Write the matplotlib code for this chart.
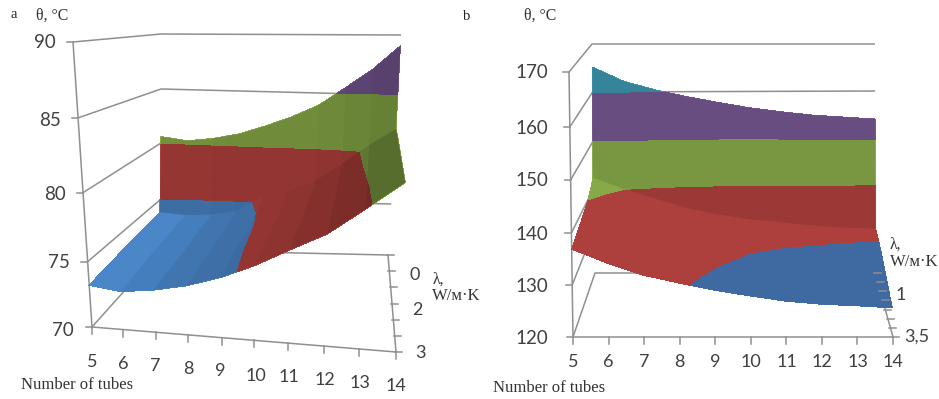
import numpy as np
import matplotlib
matplotlib.use("Agg")
import matplotlib.pyplot as plt
from matplotlib.collections import PolyCollection

# ---------- data ----------
tubes = [5, 6, 7, 8, 9, 10, 11, 12, 13, 14]

a_lambda = [0, 0.05, 0.5, 1, 1.5, 2, 2.5, 3]
a_row0 = [80.6, 80.3, 80.6, 81.1, 81.9, 82.8, 83.9, 85.5, 87.1, 89.1]
a_row1 = [73.8, 73.6, 73.7, 74.1, 75.6, 76.1, 77.1, 78.8, 80.6, 82.1]
a_row2 = [73.7, 73.5, 73.6, 74.0, 75.0, 75.9, 77.0, 78.6, 80.4, 82.1]
a_row3 = [73.6, 73.4, 73.5, 73.95, 74.82, 75.8, 76.9, 78.4, 80.2, 82.0]
a_row4 = [73.5, 73.3, 73.4, 73.9, 74.75, 75.7, 76.85, 78.3, 80.0, 81.9]
a_row5 = [73.4, 73.2, 73.35, 73.85, 74.7, 75.65, 76.8, 78.2, 79.8, 81.8]
a_row6 = [73.3, 73.05, 73.3, 73.8, 74.6, 75.6, 76.75, 78.05, 79.7, 81.7]
a_row7 = [73.2, 72.9, 73.2, 73.7, 74.5, 75.5, 76.7, 77.9, 79.6, 81.6]
a_theta_ticks = [70, 75, 80, 85, 90]

b_lambda = [0, 0.1, 0.5, 1, 1.5, 2, 2.5, 3, 3.5]
b_row0 = [165.2, 162.2, 160.4, 159.0, 157.8, 156.7, 155.9, 155.2, 154.8, 154.4]
b_row1 = [142.5, 140.0, 137.7, 135.4, 133.9, 132.7, 132.0, 131.2, 130.7, 130.5]
b_row2 = [141.0, 138.8, 136.6, 134.3, 132.6, 131.5, 130.9, 130.4, 130.2, 130.2]
b_row3 = [139.8, 137.5, 135.4, 133.2, 131.6, 130.6, 130.2, 130.0, 129.9, 129.8]
b_row4 = [139.0, 136.6, 134.5, 132.4, 130.9, 130.0, 129.6, 129.3, 129.2, 129.1]
b_row5 = [138.3, 135.9, 133.7, 131.8, 130.4, 129.5, 129.0, 128.6, 128.4, 128.2]
b_row6 = [137.8, 135.3, 133.1, 131.3, 129.9, 129.0, 128.3, 127.8, 127.6, 127.3]
b_row7 = [137.3, 134.7, 132.5, 130.8, 129.4, 128.4, 127.6, 127.0, 126.8, 126.4]
b_row8 = [136.9, 134.2, 131.9, 130.4, 129.0, 127.9, 126.9, 126.3, 126.0, 125.6]
b_theta_ticks = [120, 130, 140, 150, 160, 170]

lambda_ticks_a = [0, 0.5, 1, 1.5, 2, 2.5, 3]
lambda_ticks_b = [0, 0.5, 1, 1.5, 2, 2.5, 3, 3.5]

# ---------- view geometry (oblique view of each 3D chart) ----------
GEO_A = dict(
    lam_max=3,
    fl_x=(92, 73), fr_x=(396, 412), bl_x=(161, 161), br_x=(388, 401),
    fl_y=[327, 262, 193, 118, 42], fr_y=[352, 283, 205, 135, 62],
    bl_y=[250, 199, 143, 89, 34], br_y=[255, 204, 152, 95, 35],
    front_frac=[0, .102, .210, .315, .426, .534, .646, .764, .879, 1],
)
GEO_B = dict(
    lam_max=3.5,
    fl_x=(573, 569), fr_x=(893, 886), bl_x=(595, 592), br_x=(875, 875),
    fl_y=[337, 285, 233, 180, 127, 72], fr_y=[337, 285, 233, 180, 127, 72],
    bl_y=[273, 229, 188, 141, 92, 44], br_y=[273, 229, 188, 141, 91, 44],
    front_frac=[0, .111, .222, .333, .444, .556, .667, .778, .889, 1],
)

def project(n, lam, theta, geo, ticks):
    n, lam, theta = np.broadcast_arrays(np.asarray(n, float), np.asarray(lam, float), np.asarray(theta, float))
    d = lam / geo["lam_max"]
    t = (theta - ticks[0]) / (ticks[-1] - ticks[0])
    ub = (n - 5) / 9
    uf = np.interp(n, tubes, geo["front_frac"])
    u = ub * (1 - d) + uf * d
    def corner(xs, ys):
        return xs[0] + (xs[1] - xs[0]) * t, np.interp(theta, ticks, ys)
    flx, fly = corner(geo["fl_x"], geo["fl_y"])
    frx, fry = corner(geo["fr_x"], geo["fr_y"])
    blx, bly = corner(geo["bl_x"], geo["bl_y"])
    brx, bry = corner(geo["br_x"], geo["br_y"])
    x = (1 - u) * ((1 - d) * blx + d * flx) + u * ((1 - d) * brx + d * frx)
    y = (1 - u) * ((1 - d) * bly + d * fly) + u * ((1 - d) * bry + d * fry)
    return x, y

GRID = "#8f8f8f"
TICK_TXT = "#404040"
LABEL_TXT = "#333333"
SANS = "Lato"
SERIF = "Liberation Serif"

fig = plt.figure(figsize=(9.39, 3.99), dpi=100)
ax = fig.add_axes([0, 0, 1, 1])
ax.set_xlim(0, 939)
ax.set_ylim(399, 0)
ax.axis("off")

def frame(geo, ticks):
    nmin, nmax, lmax = tubes[0], tubes[-1], geo["lam_max"]
    for th in ticks:
        x, y = project([nmin, nmin, nmax], [lmax, 0, 0], [th, th, th], geo, ticks)
        ax.plot(x, y, color=GRID, lw=1.1, zorder=1, solid_capstyle="butt")
        ax.plot([x[0] - 6, x[0]], [y[0], y[0]], color=GRID, lw=1.1, zorder=1)
    x, y = project([nmin, nmin], [lmax, lmax], [ticks[0], ticks[-1]], geo, ticks)
    ax.plot(x, y, color=GRID, lw=1.1, zorder=1)
    x, y = project([nmin, nmax, nmax], [lmax, lmax, 0], [ticks[0]] * 3, geo, ticks)
    ax.plot(x, y, color=GRID, lw=1.1, zorder=1)
    for n in tubes:
        x, y = project(n, lmax, ticks[0], geo, ticks)
        ax.plot([x, x], [y, y + 7], color=GRID, lw=1.1, zorder=1)

def side_ticks(geo, ticks, lam_ticks, zorder):
    for lam in lam_ticks:
        x, y = project(tubes[-1], lam, ticks[0], geo, ticks)
        ax.plot([x - 1, x + 6], [y, y], color=GRID, lw=1.1, zorder=zorder)

def surface(rows, lams, geo, ticks, colors, cliff_alpha, top_alpha):
    Z = np.array(rows, float)
    N, L = np.meshgrid(tubes, lams)
    X, Y = project(N, L, Z, geo, ticks)
    ax.contourf(X, Y, Z, levels=ticks, colors=colors, zorder=2)
    polys, alphas = [], []
    for i in range(len(tubes) - 1):
        # the steep face between the first two rows
        polys.append(np.array([[X[0, i], Y[0, i]], [X[0, i + 1], Y[0, i + 1]],
                               [X[1, i + 1], Y[1, i + 1]], [X[1, i], Y[1, i]]]))
        alphas.append(cliff_alpha[i])
        # the gentler remainder of the surface, one strip per tube step
        left = np.column_stack([X[1:, i], Y[1:, i]])
        right = np.column_stack([X[1:, i + 1], Y[1:, i + 1]])
        polys.append(np.vstack([left, right[::-1]]))
        alphas.append(top_alpha[i])
    fc = [(0, 0, 0, a) for a in alphas]
    ax.add_collection(PolyCollection(polys, facecolors=fc, edgecolors="none",
                                     linewidths=0, zorder=3))

# ---------- panel a ----------
frame(GEO_A, a_theta_ticks)
side_ticks(GEO_A, a_theta_ticks, lambda_ticks_a, 1)
rows_a = [a_row0, a_row1, a_row2, a_row3, a_row4, a_row5, a_row6, a_row7]
surface(rows_a, a_lambda, GEO_A, a_theta_ticks,
        ["#4a86c8", "#b8433f", "#8db04a", "#7a5a96"],
        [.18, .18, .2, .2, .2, .2, .22, .24, .27],
        [0, .06, .12, .16, .20, .23, .27, .32, .38])

for s, x, y in zip(a_theta_ticks, [63, 59, 55, 50, 45], [330, 263, 194, 120, 43]):
    ax.text(x, y, str(s), ha="center", va="center", family=SANS, size=13.5, color=TICK_TXT)
for s, x, y in zip(tubes, [92, 123, 155, 188, 220, 256, 289, 325, 360, 396],
                   [362, 364, 366, 369, 371, 376, 377, 380, 383, 386]):
    ax.text(x, y, str(s), ha="center", va="center", family=SANS, size=13, color=TICK_TXT)
for s, x, y in zip(["0", "2", "3"], [415, 417, 420], [275, 310, 353]):
    ax.text(x, y, s, ha="center", va="center", family=SANS, size=13, color=TICK_TXT)
ax.text(14, 15, "a", ha="center", va="center", family=SERIF, size=10.5, color="#222222")
ax.text(52, 16, "θ, °C", ha="center", va="center", family=SERIF, size=11.4, color=LABEL_TXT)
ax.text(21, 385, "Number of tubes", ha="left", va="center", family=SERIF, size=12, color=LABEL_TXT)
ax.text(433, 280, "λ,", ha="left", va="center", family=SERIF, size=11.4, color=LABEL_TXT)
ax.text(432, 296, "W/м·K", ha="left", va="center", family=SERIF, size=12, color=LABEL_TXT)

# ---------- panel b ----------
frame(GEO_B, b_theta_ticks)
rows_b = [b_row0, b_row1, b_row2, b_row3, b_row4, b_row5, b_row6, b_row7, b_row8]
surface(rows_b, b_lambda, GEO_B, b_theta_ticks,
        ["#416fa8", "#b5433f", "#8db04b", "#7a5a96", "#3e9ab3"],
        [.14] * 9, [.04] * 9)
side_ticks(GEO_B, b_theta_ticks, lambda_ticks_b, 4)

for s, y in zip(b_theta_ticks, [338, 286, 234, 181, 128, 73]):
    ax.text(532, y, str(s), ha="center", va="center", family=SANS, size=13.5, color=TICK_TXT)
for s, x in zip(tubes, [573, 608, 644, 679, 715, 751, 787, 822, 858, 893]):
    ax.text(x, 362, str(s), ha="center", va="center", family=SANS, size=13, color=TICK_TXT)
ax.text(901, 295, "1", ha="center", va="center", family=SANS, size=13, color=TICK_TXT)
ax.text(917, 337, "3,5", ha="center", va="center", family=SANS, size=13, color=TICK_TXT)
ax.text(467, 17, "b", ha="center", va="center", family=SERIF, size=10.5, color="#222222")
ax.text(540, 16, "θ, °C", ha="center", va="center", family=SERIF, size=11.4, color=LABEL_TXT)
ax.text(493, 388, "Number of tubes", ha="left", va="center", family=SERIF, size=12, color=LABEL_TXT)
ax.text(890, 245, "λ,", ha="left", va="center", family=SERIF, size=11.4, color=LABEL_TXT)
ax.text(890, 262, "W/м·K", ha="left", va="center", family=SERIF, size=12, color=LABEL_TXT)

fig.savefig("out.png", dpi=100)
